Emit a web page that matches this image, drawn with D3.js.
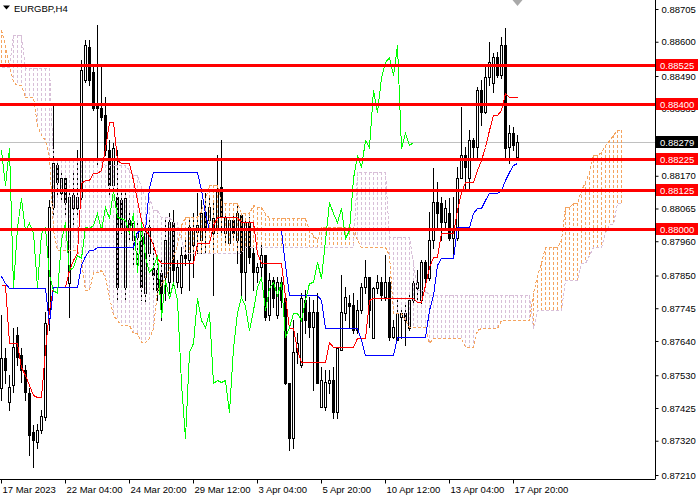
<!DOCTYPE html>
<html><head><meta charset="utf-8">
<script src="https://cdn.jsdelivr.net/npm/d3@7"></script>
<style>
html,body{margin:0;padding:0;background:#fff;}
svg{display:block;font-family:"Liberation Sans",Arial,sans-serif;}
</style></head><body>
<svg id="c" width="700" height="500"></svg>
<script>
// ---- DATA (EURGBP H4, bars 0..129 from 17 Mar 2023 12:00) ----
const symbolTitle = "EURGBP,H4";
const open = [
0.87489,0.87585,0.87444,0.87498,0.87659,0.87594,0.87546,0.87473,0.87347,0.87315,
0.87354,0.87395,0.87713,0.88070,0.88204,0.88114,0.88163,0.87826,0.88066,0.88066,
0.88102,0.88477,0.88583,0.88503,0.88397,0.88387,0.88365,0.88253,0.88140,0.88102,
0.88092,0.87813,0.88028,0.87964,0.87973,0.87973,0.87794,0.87922,0.87874,0.87867,
0.87858,0.87845,0.87829,0.88021,0.87829,0.87813,0.87915,0.87899,0.87947,0.87989,
0.87964,0.88054,0.88028,0.87986,0.88005,0.88134,0.87986,0.87954,0.88028,0.87964,
0.88044,0.87861,0.88018,0.87922,0.87861,0.87877,0.87915,0.87723,0.87835,0.87723,
0.87829,0.87777,0.87505,0.87328,0.87604,0.87562,0.87771,0.87733,0.87684,0.87733,
0.87427,0.87427,0.87505,0.87514,0.87411,0.87611,0.87729,0.87761,0.87755,0.87675,
0.87739,0.87813,0.87845,0.87649,0.87810,0.87829,0.87781,0.87829,0.87652,0.87643,
0.87716,0.87729,0.87681,0.87771,0.87810,0.87771,0.87893,0.87842,0.87964,0.88086,
0.88082,0.88021,0.88050,0.87970,0.87970,0.88163,0.88236,0.88163,0.88285,0.88262,
0.88445,0.88374,0.88487,0.88468,0.88551,0.88493,0.88590,0.88262,0.88307,0.88230];
const high = [
0.87723,0.87617,0.87530,0.87681,0.87684,0.87617,0.87562,0.87489,0.87370,0.87373,
0.87418,0.87733,0.88092,0.88397,0.88220,0.88188,0.88172,0.88114,0.88179,0.88253,
0.88541,0.88606,0.88606,0.88525,0.88654,0.88525,0.88423,0.88285,0.88275,0.88253,
0.88118,0.88118,0.88050,0.88050,0.88028,0.87996,0.87996,0.88028,0.87964,0.87909,
0.87899,0.88038,0.88050,0.88060,0.87899,0.87941,0.87964,0.88028,0.88050,0.88114,
0.88092,0.88114,0.88098,0.88092,0.88236,0.88285,0.88050,0.88034,0.88044,0.88082,
0.88050,0.88028,0.88038,0.87938,0.87890,0.87954,0.87915,0.87858,0.87845,0.87845,
0.87845,0.87781,0.87505,0.87707,0.87665,0.87794,0.87803,0.87781,0.87771,0.87794,
0.87556,0.87546,0.87546,0.87556,0.87620,0.87851,0.87813,0.87787,0.87794,0.87771,
0.87826,0.87899,0.87845,0.87813,0.87851,0.87845,0.87915,0.87845,0.87707,0.87771,
0.87739,0.87765,0.87794,0.87835,0.87867,0.87899,0.87899,0.88054,0.88195,0.88150,
0.88102,0.88092,0.88098,0.88102,0.88198,0.88391,0.88262,0.88317,0.88291,0.88455,
0.88477,0.88519,0.88599,0.88564,0.88567,0.88615,0.88644,0.88333,0.88326,0.88301];
const low = [
0.87450,0.87505,0.87418,0.87476,0.87562,0.87508,0.87450,0.87273,0.87235,0.87296,
0.87344,0.87386,0.87675,0.88044,0.88102,0.88092,0.88044,0.87716,0.87996,0.88044,
0.88092,0.88471,0.88461,0.88381,0.88198,0.88349,0.88236,0.88108,0.88118,0.87771,
0.87986,0.87771,0.87964,0.87877,0.87877,0.87771,0.87761,0.87899,0.87803,0.87771,
0.87707,0.87771,0.87794,0.87819,0.87813,0.87794,0.87883,0.87803,0.87845,0.87922,
0.87922,0.87922,0.88018,0.87787,0.87986,0.87986,0.87954,0.87947,0.87964,0.87890,
0.87781,0.87771,0.87890,0.87803,0.87829,0.87835,0.87707,0.87707,0.87749,0.87713,
0.87749,0.87501,0.87290,0.87296,0.87569,0.87556,0.87665,0.87652,0.87482,0.87505,
0.87427,0.87418,0.87473,0.87392,0.87392,0.87611,0.87707,0.87681,0.87665,0.87665,
0.87729,0.87794,0.87684,0.87649,0.87794,0.87771,0.87771,0.87643,0.87649,0.87643,
0.87649,0.87627,0.87675,0.87761,0.87771,0.87761,0.87829,0.87835,0.87938,0.88005,
0.87964,0.88005,0.87964,0.87915,0.87964,0.88163,0.88131,0.88131,0.88230,0.88230,
0.88333,0.88371,0.88461,0.88439,0.88487,0.88484,0.88230,0.88211,0.88253,0.88220];
const close = [
0.87585,0.87546,0.87492,0.87620,0.87588,0.87546,0.87476,0.87338,0.87322,0.87354,
0.87399,0.87697,0.88070,0.88211,0.88150,0.88163,0.88086,0.88102,0.88108,0.88102,
0.88509,0.88590,0.88477,0.88387,0.88387,0.88358,0.88253,0.88140,0.88259,0.87813,
0.88005,0.88098,0.87996,0.88018,0.87986,0.87813,0.87986,0.88005,0.87851,0.87803,
0.87794,0.87964,0.88021,0.87867,0.87877,0.87915,0.87906,0.88005,0.88002,0.88012,
0.88050,0.87996,0.88070,0.88034,0.88124,0.88038,0.88034,0.88028,0.87986,0.88050,
0.87861,0.88021,0.87909,0.87861,0.87877,0.87915,0.87716,0.87835,0.87777,0.87829,
0.87771,0.87505,0.87328,0.87604,0.87633,0.87777,0.87707,0.87684,0.87733,0.87505,
0.87514,0.87508,0.87514,0.87411,0.87617,0.87733,0.87781,0.87752,0.87675,0.87739,
0.87813,0.87845,0.87739,0.87810,0.87829,0.87787,0.87829,0.87652,0.87684,0.87729,
0.87729,0.87707,0.87771,0.87826,0.87829,0.87893,0.87842,0.87964,0.88086,0.88050,
0.88021,0.88066,0.87970,0.87996,0.88163,0.88236,0.88198,0.88285,0.88262,0.88445,
0.88374,0.88487,0.88535,0.88551,0.88493,0.88590,0.88259,0.88307,0.88269,0.88279];

// Ichimoku lines, run-length encoded as [value, number of bars]
const tenkanRuns = [[0.87819,2],[0.87633,3],[0.87556,1],[0.87530,1],[0.87498,1],[0.87466,1],[0.87460,2],
[0.87611,1],[0.87739,1],[0.87813,4],[0.87867,1],[0.87899,1],[0.87922,1],[0.88147,1],[0.88156,2],[0.88179,2],
[0.88188,1],[0.88259,1],[0.88342,2],[0.88220,1],[0.88211,3],[0.88156,1],[0.88092,1],[0.88028,1],[0.87996,1],
[0.87980,1],[0.87947,1],[0.87906,1],[0.87890,9],[0.87954,4],[0.88012,1],[0.88038,6],[0.88021,4],[0.87922,1],
[0.87890,6],[0.87781,1],[0.87681,2],[0.87611,1],[0.87572,7],[0.87636,1],[0.87620,6],[0.87649,3],[0.87771,1],
[0.87777,11],[0.87765,2],[0.87819,1],[0.87877,1],[0.87909,2],[0.87986,4],[0.88060,1],[0.88118,1],[0.88150,3],
[0.88188,1],[0.88220,1],[0.88262,1],[0.88317,1],[0.88365,2],[0.88381,1],[0.88436,1],[0.88423,3]];
const kijunRuns = [[0.87848,1],[0.87826,1],[0.87810,10],[0.87697,1],[0.87813,7],[0.87883,1],[0.87912,1],
[0.87932,2],[0.87941,10],[0.87989,1],[0.87996,2],[0.88134,1],[0.88182,12],[0.88124,1],[0.88050,1],[0.87996,19],
[0.87883,1],[0.87787,8],[0.87771,1],[0.87681,9],[0.87643,1],[0.87594,8],[0.87652,8],[0.87739,1],[0.87787,1],
[0.87883,1],[0.87906,4],[0.88005,4],[0.88050,1],[0.88066,2],[0.88092,1],[0.88114,3],[0.88124,1],[0.88156,1],
[0.88182,1],[0.88204,1],[0.88211,1]];
const senkouARuns = [[0.88638,1],[0.88590,1],[0.88525,1],[0.88471,1],[0.88461,2],[0.88423,3],[0.88333,1],
[0.88301,1],[0.88285,1],[0.88230,1],[0.87996,1],[0.87932,6],[0.87899,1],[0.87803,2],[0.87861,2],[0.87867,1],
[0.87845,1],[0.87781,1],[0.87723,1],[0.87707,1],[0.87691,3],[0.87665,2],[0.87636,2],[0.87649,1],[0.87681,1],
[0.87803,1],[0.87819,1],[0.87845,1],[0.87874,1],[0.87910,1],[0.87947,1],[0.88012,1],[0.88038,4],[0.88060,1],
[0.88100,1],[0.88140,3],[0.88082,5],[0.88050,3],[0.88076,1],[0.88070,2],[0.88050,1],[0.88034,10],[0.87996,1],
[0.87980,1],[0.87964,1],[0.88005,9],[0.87964,1],[0.87941,7],[0.87915,1],[0.87729,3],[0.87707,1],[0.87684,5],
[0.87633,1],[0.87649,8],[0.87620,3],[0.87675,1],[0.87681,5],[0.87707,8],[0.87794,1],[0.87851,1],[0.87890,1],
[0.87941,4],[0.87964,1],[0.88070,2],[0.88082,2],[0.88124,1],[0.88150,1],[0.88182,1],[0.88236,2],[0.88246,1],
[0.88269,1],[0.88285,1],[0.88301,1],[0.88317,2]];
const senkouBRuns = [[0.88519,3],[0.88622,3],[0.88516,7],[0.88220,13],[0.88204,6],[0.88188,1],[0.88172,2],
[0.88134,1],[0.88102,2],[0.88060,2],[0.88038,3],[0.88021,2],[0.87964,1],[0.87922,15],[0.87941,28],[0.88182,8],
[0.87973,6],[0.87890,1],[0.87803,3],[0.87787,26],[0.87681,1],[0.87739,7],[0.87835,4],[0.87890,2],[0.87915,1],
[0.87941,3],[0.87986,1],[0.88015,2],[0.88082,2]];
const chikouShift = 26;

const levels = [0.88525, 0.88400, 0.88225, 0.88125, 0.88000];
const bidPrice = 0.88279;
const yTicks = [0.88705,0.88600,0.88490,0.88385,0.88275,0.88170,0.88065,0.87960,0.87850,0.87745,0.87640,0.87530,0.87425,0.87320,0.87210];
const xTickBars = [0,16,32,48,64,80,96,112,128];
const xTickLabels = ["17 Mar 2023","22 Mar 04:00","24 Mar 20:00","29 Mar 12:00","3 Apr 04:00","5 Apr 20:00","10 Apr 12:00","13 Apr 04:00","17 Apr 20:00"];

// ---- DRAW ----
const expand = runs => runs.flatMap(([v,n]) => Array(n).fill(v));
const tenkan = expand(tenkanRuns), kijun = expand(kijunRuns);
const spanA = expand(senkouARuns), spanB = expand(senkouBRuns);
const chikou = close.slice(chikouShift);

const plotR = 655, plotB = 479;
const x = d3.scaleLinear().domain([0, 163.5]).range([1, 655]);
const y = d3.scaleLinear().domain([0.872004, 0.887339]).range([478, 0]);
const px = i => Math.round(x(i)) + 0.5;

const svg = d3.select("#c");
svg.append("defs").append("clipPath").attr("id","clip")
  .append("rect").attr("x",0).attr("y",0).attr("width",plotR).attr("height",plotB);
const g = svg.append("g").attr("clip-path","url(#clip)");

// bid line
const by = Math.round(y(bidPrice)) + 0.5;
g.append("line").attr("x1",0).attr("x2",plotR).attr("y1",by).attr("y2",by)
  .style("stroke","#C0C0C0").style("stroke-width",1);

// candles
const cg = g.append("g").attr("shape-rendering","crispEdges");
open.forEach((o,i) => {
  const c = close[i], xi = px(i);
  cg.append("line").attr("x1",xi).attr("x2",xi)
    .attr("y1",Math.round(y(high[i]))).attr("y2",Math.round(y(low[i]))+1)
    .style("stroke","#000");
  const top = Math.round(y(Math.max(o,c))), bot = Math.round(y(Math.min(o,c)));
  if (bot - top < 1) {
    cg.append("line").attr("x1",xi-1.5).attr("x2",xi+2.5).attr("y1",top+0.5).attr("y2",top+0.5).style("stroke","#000");
  } else {
    cg.append("rect").attr("x",xi-1).attr("y",top+0.5).attr("width",2).attr("height",bot-top)
      .style("fill", c >= o ? "#fff" : "#000").style("stroke","#000").style("stroke-width",1);
  }
});

// cloud hatch (vertical dotted lines in the colour of the upper span)
const hg = g.append("g");
spanA.forEach((a,i) => {
  const b = spanB[i];
  hg.append("path")
    .attr("d", `M${px(i)},${Math.round(y(Math.max(a,b)))}V${Math.round(y(Math.min(a,b)))}`)
    .style("fill","none")
    .style("stroke", a >= b ? "#F4A460" : "#D8BFD8")
    .style("stroke-width", 1)
    .style("stroke-dasharray","3,2")
    .style("shape-rendering","crispEdges");
});

function drawLine(data, color, dash){
  const l = d3.line().x((d,i)=>px(i)).y(d=>Math.round(y(d))+0.5);
  const p = g.append("path").datum(data).attr("d",l).style("fill","none")
    .style("stroke",color).style("stroke-width",1).style("shape-rendering","crispEdges");
  if (dash) p.style("stroke-dasharray",dash);
}
drawLine(spanA, "#F4A460", "3,2");
drawLine(spanB, "#D8BFD8", "3,2");
drawLine(tenkan, "#FF0000");
drawLine(kijun, "#0000FF");
drawLine(chikou, "#00FF00");

// horizontal levels
levels.forEach(v => {
  const ly = Math.round(y(v)) + 0.5;
  g.append("line").attr("x1",0).attr("x2",plotR).attr("y1",ly).attr("y2",ly)
    .style("stroke","#FF0000").style("stroke-width",3);
});

// axes
const yAxis = d3.axisRight(y).tickValues(yTicks).tickSize(3).tickPadding(3).tickSizeOuter(0)
  .tickFormat(d3.format(".5f"));
const ya = svg.append("g").attr("transform",`translate(${plotR+0.5},0)`).call(yAxis);
ya.select(".domain").attr("d",`M0,0V${plotB}`).attr("stroke","#000");
ya.selectAll("text").attr("font-size","9.5px").attr("fill","#000").attr("font-family","Liberation Sans, Arial, sans-serif");
ya.selectAll("line").attr("stroke","#000");

const xAxis = d3.axisBottom(x).tickValues(xTickBars).tickSize(4).tickPadding(3).tickSizeOuter(0)
  .tickFormat((d,i)=>xTickLabels[i]);
const xa = svg.append("g").attr("transform",`translate(0,${plotB+0.5})`).call(xAxis);
xa.select(".domain").attr("d",`M0,0H${plotR+0.5}`).attr("stroke","#000");
xa.selectAll(".tick").attr("transform",d=>`translate(${px(d)},0)`);
xa.selectAll("text").attr("text-anchor","start").attr("x",1).attr("font-size","9.5px").attr("fill","#000")
  .attr("font-family","Liberation Sans, Arial, sans-serif");
xa.selectAll("line").attr("stroke","#000");

// price labels for levels and bid
function priceLabel(v, bg){
  const ly = Math.round(y(v));
  svg.append("rect").attr("x",plotR+1).attr("y",ly-6).attr("width",42).attr("height",12).style("fill",bg);
  svg.append("text").attr("x",plotR+5).attr("y",ly+3.5).style("fill","#fff").attr("font-size","9.5px")
    .text(d3.format(".5f")(v));
}
levels.forEach(v => priceLabel(v, "#FF0000"));
priceLabel(bidPrice, "#000");

// title
svg.append("path").attr("d","M3,5.5L10,5.5L6.5,9.5Z").style("fill","#000");
svg.append("text").attr("x",14).attr("y",12).attr("font-size","9.5px").style("fill","#000").text(symbolTitle);
// chart shift marker
svg.append("path").attr("d",`M${px(129)-5},0L${px(129)+5},0L${px(129)},6Z`).style("fill","#A9A9A9");
</script>
</body></html>
